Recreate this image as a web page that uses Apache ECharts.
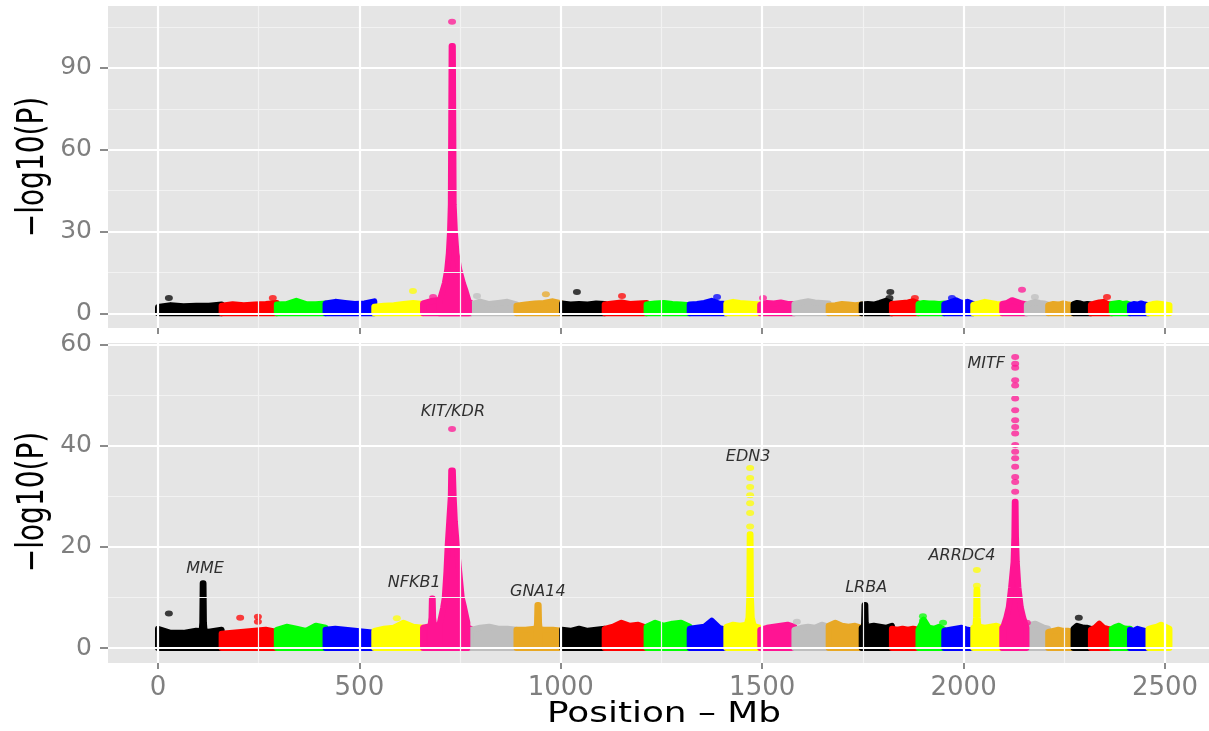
<!DOCTYPE html>
<html>
<head>
<meta charset="utf-8">
<script src="https://cdn.jsdelivr.net/npm/echarts@6/dist/echarts.min.js"></script>
<style>
html, body { margin: 0; padding: 0; background: #fff; }
#chart { width: 1209px; height: 731px; }
</style>
</head>
<body>
<div id="chart"></div>
<script>
// Chromosome sizes in Mb (BTA1..BTA29), colours cycle every 8 chromosomes
const chrLengths = [158, 137, 121, 121, 121, 119, 113, 113, 106, 104, 107, 91, 84, 85, 85, 82, 75, 66, 64, 72, 72, 61, 53, 63, 43, 52, 45, 46, 52];
const palette = ['#000000', '#FF0000', '#00FF00', '#0000FF', '#FFFF00', '#FF1493', '#BEBEBE', '#E8A825'];

// Top panel: upper edge of the dense band of SNPs, 6 samples per chromosome
const topBand = [
    [2.3, 3.0, 2.6, 2.8, 2.8, 3.2], [2.8, 3.3, 3.0, 3.2, 3.4, 3.8], [3.2, 3.4, 4.6, 3.4, 3.3, 3.6],
    [3.6, 4.2, 3.8, 3.4, 3.6, 4.4], [2.4, 2.8, 3.0, 3.4, 3.8, 3.4], [3.6, 4.6, 5.0, 5.3, 4.8, 3.8],
    [3.2, 4.3, 3.4, 3.8, 4.2, 3.3], [2.8, 3.2, 3.6, 3.8, 4.4, 3.6], [3.6, 3.2, 3.4, 3.2, 3.6, 3.4],
    [3.2, 3.6, 4.0, 3.4, 3.6, 3.8], [3.2, 3.6, 3.8, 3.4, 3.2, 3.0], [3.2, 3.4, 3.8, 4.6, 3.6, 3.4],
    [3.6, 4.2, 3.8, 3.6, 3.4, 3.2], [3.2, 3.8, 3.6, 4.0, 3.4, 3.4], [3.4, 4.0, 4.4, 4.0, 3.8, 3.6],
    [2.8, 3.0, 3.4, 3.2, 3.0, 3.2], [3.2, 3.4, 3.2, 3.8, 4.6, 3.6], [3.4, 3.6, 3.8, 4.0, 4.4, 3.6],
    [3.4, 3.8, 3.6, 3.6, 3.4, 3.6], [3.4, 4.0, 4.8, 3.8, 4.2, 3.4], [3.2, 3.6, 4.2, 3.8, 3.4, 3.2],
    [3.4, 3.8, 4.8, 4.2, 3.6, 3.2], [3.2, 3.8, 4.2, 3.8, 3.6, 3.2], [3.0, 3.4, 3.2, 3.6, 3.2, 3.0],
    [3.4, 3.8, 3.6, 3.2, 3.4, 3.2], [3.2, 3.6, 4.0, 4.2, 3.4, 3.2], [3.4, 3.6, 3.8, 3.4, 3.6, 3.2],
    [3.0, 3.4, 3.2, 3.6, 3.2, 3.0], [3.0, 3.4, 3.6, 3.4, 3.2, 3.0]
];
// peak outlines [position Mb, -log10P] and the chromosome they sit on
const topPeakChr = [6];
const topPeaks = [
    [[698, 4], [706, 8], [712, 11], [718, 16], [722, 22], [725, 30], [727, 40], [728, 70], [729, 98],
     [732, 98], [733, 70], [734, 40], [737, 30], [741, 22], [748, 16], [757, 11], [764, 8], [772, 4]]
];
// isolated points [position, -log10P, chromosome]
const topDots = [
    [27, 5.6, 1], [285, 5.6, 2], [633, 8.2, 5], [683, 6.0, 6], [730, 106.9, 6], [792, 6.3, 7],
    [963, 7.0, 8], [1040, 7.8, 9], [1152, 6.3, 10], [1388, 6.0, 12], [1502, 5.6, 14],
    [1818, 7.8, 17], [1816, 5.6, 17], [1879, 5.6, 18], [1971, 5.6, 20], [2145, 8.6, 22],
    [2177, 6.0, 23], [2356, 6.0, 26]
];

// Bottom panel
const bottomBand = [
    [3.8, 3.0, 3.0, 3.4, 3.2, 3.6], [2.8, 3.0, 3.2, 3.4, 3.6, 3.2], [3.6, 4.2, 3.8, 3.4, 4.4, 4.0],
    [3.6, 3.8, 3.6, 3.4, 3.2, 3.0], [3.4, 3.8, 4.0, 5.0, 4.2, 4.0], [4.0, 4.4, 4.6, 4.8, 4.4, 3.8],
    [3.6, 4.0, 4.2, 3.8, 3.8, 3.6], [3.6, 3.6, 3.8, 3.6, 3.6, 3.4], [3.6, 3.4, 3.8, 3.4, 3.6, 3.8],
    [3.8, 4.2, 5.0, 4.4, 4.6, 4.0], [4.2, 5.0, 4.4, 4.8, 5.0, 4.2], [3.8, 4.0, 4.2, 5.4, 4.0, 3.6],
    [4.2, 4.6, 4.4, 4.6, 4.4, 4.0], [3.6, 4.0, 4.2, 4.4, 4.6, 4.2], [3.6, 4.0, 4.2, 4.0, 4.6, 4.2],
    [4.4, 5.0, 4.4, 4.2, 4.4, 4.0], [4.0, 4.2, 4.4, 4.2, 4.0, 4.4], [3.8, 3.6, 3.8, 3.6, 3.8, 3.6],
    [3.6, 5.6, 4.0, 3.8, 4.2, 3.6], [3.4, 3.6, 3.8, 4.0, 3.6, 3.4], [4.0, 4.2, 4.0, 4.2, 4.4, 4.0],
    [4.0, 4.6, 4.8, 4.6, 4.4, 4.0], [4.2, 4.6, 4.8, 4.4, 4.0, 3.8], [3.2, 3.4, 3.6, 3.4, 3.4, 3.2],
    [3.8, 4.4, 4.2, 4.0, 4.0, 3.8], [3.6, 4.0, 4.8, 4.0, 3.8, 3.6], [3.8, 4.2, 4.4, 4.0, 3.8, 3.8],
    [3.6, 3.4, 3.8, 3.6, 3.4, 3.2], [3.8, 4.0, 4.2, 4.6, 4.2, 3.8]
];
const bottomPeakChr = [1, 6, 6, 8, 13, 17, 21, 22];
const bottomPeaks = [
    [[108, 3], [110, 5], [111, 12.8], [113, 12.8], [114, 5], [116, 3]],
    [[676, 4], [679, 6], [680, 9.8], [682, 9.8], [683, 6], [686, 4]],
    [[700, 5], [708, 8], [712, 10], [716, 15], [719, 20], [723, 25], [727, 30], [728, 35.1],
     [732, 35.1], [734, 30], [737, 25], [742, 20], [748, 15], [754, 10], [760, 8], [768, 5]],
    [[939, 3], [941, 5], [942, 8.5], [945, 8.5], [946, 5], [948, 3]],
    [[1460, 4], [1466, 6], [1468, 10], [1469, 22.5], [1471, 22.5], [1472, 10], [1474, 6], [1480, 4]],
    [[1751, 3], [1753, 5], [1754, 8.5], [1756, 8.5], [1757, 5], [1759, 3]],
    [[2029, 4], [2031, 6], [2032, 11.5], [2034, 11.5], [2035, 6], [2037, 4]],
    [[2098, 4], [2106, 6], [2112, 8], [2118, 12], [2124, 17], [2126, 22], [2127, 28.9],
     [2129, 28.9], [2130, 22], [2132, 17], [2136, 12], [2142, 8], [2148, 6], [2156, 4]]
];
const bottomDots = [
    [27, 6.8, 1], [204, 6.0, 2], [248, 6.2, 2], [248, 5.2, 2], [593, 5.9, 5], [730, 43.3, 6],
    [1586, 5.2, 15], [1899, 6.3, 19], [1899, 5.4, 19], [1949, 5.0, 19], [2157, 5.0, 22], [2286, 6.0, 25],
    [1470, 35.6, 13], [1470, 33.6, 13], [1470, 31.8, 13], [1470, 30.2, 13], [1470, 28.6, 13],
    [1470, 26.7, 13], [1470, 24.0, 13],
    [2033, 15.4, 21], [2033, 12.3, 21],
    [2128, 57.5, 22], [2128, 56.2, 22], [2128, 55.4, 22], [2128, 52.9, 22], [2128, 51.9, 22],
    [2128, 49.3, 22], [2128, 47.0, 22], [2128, 45.0, 22], [2128, 43.7, 22], [2128, 42.4, 22],
    [2128, 40.1, 22], [2128, 38.8, 22], [2128, 37.5, 22], [2128, 35.8, 22], [2128, 33.8, 22],
    [2128, 32.8, 22], [2128, 30.9, 22]
];

// gene labels
const geneNames = ['MME', 'NFKB1', 'KIT/KDR', 'GNA14', 'EDN3', 'LRBA', 'ARRDC4', 'MITF'];
const genePos = [[117, 15.6], [636, 12.9], [732, 46.6], [943, 11.1], [1465, 37.7], [1758, 11.9], [1996, 18.2], [2056, 56.2]];

// axes
const xTicks = [0, 500, 1000, 1500, 2000, 2500];
const xMinor = [250, 750, 1250, 1750, 2250];
const topYTicks = [0, 30, 60, 90];
const topYMinor = [15, 45, 75, 105];
const bottomYTicks = [0, 20, 40, 60];
const bottomYMinor = [10, 30, 50];

const xMin = -124.1, xMax = 2609.2;

const chrStart = [];
let acc = 0;
chrLengths.forEach(l => { chrStart.push(acc); acc += l; });
const chrColor = c => palette[(c - 1) % palette.length];

function buildPolys(band, peaks, peakChr) {
    const polys = [];
    band.forEach((h, i) => {
        const s = chrStart[i], len = chrLengths[i];
        const pts = [[s, 0]];
        h.forEach((v, k) => pts.push([s + k * len / (h.length - 1), v]));
        pts.push([s + len, 0]);
        polys.push({ pts: pts, color: palette[i % palette.length] });
    });
    peaks.forEach((p, i) => {
        const pts = [[p[0][0], 0]].concat(p, [[p[p.length - 1][0], 0]]);
        polys.push({ pts: pts, color: chrColor(peakChr[i]) });
    });
    return polys;
}

const topPolys = buildPolys(topBand, topPeaks, topPeakChr);
const bottomPolys = buildPolys(bottomBand, bottomPeaks, bottomPeakChr);

function polySeries(polys, idx) {
    return {
        type: 'custom',
        xAxisIndex: idx,
        yAxisIndex: idx,
        z: 3,
        silent: true,
        data: polys.map((p, i) => [p.pts[1][0], p.pts[1][1], i]),
        renderItem: function (params, api) {
            const p = polys[params.dataIndex];
            return {
                type: 'polygon',
                shape: { points: p.pts.map(q => api.coord(q)) },
                style: { fill: p.color, stroke: p.color, lineWidth: 6, lineJoin: 'round' }
            };
        }
    };
}

function dotSeries(dots, idx) {
    return {
        type: 'scatter',
        xAxisIndex: idx,
        yAxisIndex: idx,
        z: 4,
        silent: true,
        symbol: 'circle',
        symbolSize: [8, 6],
        data: dots.map(d => ({ value: [d[0], d[1]], itemStyle: { color: chrColor(d[2]), opacity: 0.75 } }))
    };
}

function gridSeries(idx, yMajor, yMinor) {
    const lines = [];
    xMinor.forEach(v => lines.push({ xAxis: v, lineStyle: { color: '#F2F2F2', width: 1.2, type: 'solid' } }));
    yMinor.forEach(v => lines.push({ yAxis: v, lineStyle: { color: '#F2F2F2', width: 1.2, type: 'solid' } }));
    xTicks.forEach(v => lines.push({ xAxis: v, lineStyle: { color: '#FFFFFF', width: 2.2, type: 'solid' } }));
    yMajor.forEach(v => lines.push({ yAxis: v, lineStyle: { color: '#FFFFFF', width: 2.2, type: 'solid' } }));
    return {
        type: 'scatter',
        xAxisIndex: idx,
        yAxisIndex: idx,
        z: 1,
        data: [],
        markLine: { silent: true, symbol: 'none', animation: false, label: { show: false }, data: lines }
    };
}

function xAxisCfg(idx, showLabels) {
    return {
        type: 'value', gridIndex: idx, min: xMin, max: xMax,
        splitLine: { show: false },
        axisLine: { show: false, onZero: false },
        axisTick: { show: true, customValues: xTicks, length: 6, lineStyle: { color: '#666', width: 1.5 } },
        axisLabel: {
            show: showLabels, customValues: xTicks, margin: 12,
            formatter: v => String(v),
            fontSize: 26, fontFamily: 'DejaVu Sans', color: '#7F7F7F'
        }
    };
}

function yAxisCfg(idx, min, max, ticks) {
    return {
        type: 'value', gridIndex: idx, min: min, max: max,
        splitLine: { show: false },
        axisLine: { show: false, onZero: false },
        axisTick: { show: true, customValues: ticks, length: 8, lineStyle: { color: '#666', width: 1.5 } },
        axisLabel: {
            customValues: ticks, margin: 16,
            formatter: v => String(v),
            fontSize: 25, fontFamily: 'DejaVu Sans', color: '#7F7F7F'
        }
    };
}

const chart = echarts.init(document.getElementById('chart'));

const option = {
    animation: false,
    backgroundColor: '#FFFFFF',
    grid: [
        { left: 108, top: 6, width: 1101, height: 322, show: true, backgroundColor: '#E5E5E5', borderWidth: 0 },
        { left: 108, top: 343, width: 1101, height: 320, show: true, backgroundColor: '#E5E5E5', borderWidth: 0 }
    ],
    xAxis: [xAxisCfg(0, false), xAxisCfg(1, true)],
    yAxis: [
        yAxisCfg(0, -5.39, 112.7, topYTicks),
        yAxisCfg(1, -2.96, 60.28, bottomYTicks)
    ],
    graphic: [
        {
            type: 'text', x: 34, y: 167, rotation: Math.PI / 2, scaleY: 1.3,
            style: { text: '\u2212log10(P)', font: '28px "DejaVu Sans"', fill: '#000', align: 'center', verticalAlign: 'middle' }
        },
        {
            type: 'text', x: 34, y: 502, rotation: Math.PI / 2, scaleY: 1.3,
            style: { text: '\u2212log10(P)', font: '28px "DejaVu Sans"', fill: '#000', align: 'center', verticalAlign: 'middle' }
        },
        {
            type: 'text', x: 664, y: 715, scaleX: 1.28,
            style: { text: 'Position \u2013 Mb', font: '28px "DejaVu Sans"', fill: '#000', align: 'center', verticalAlign: 'middle' }
        }
    ],
    series: [
        gridSeries(0, topYTicks, topYMinor),
        gridSeries(1, bottomYTicks, bottomYMinor),
        polySeries(topPolys, 0),
        polySeries(bottomPolys, 1),
        dotSeries(topDots, 0),
        dotSeries(bottomDots, 1),
        {
            type: 'scatter',
            xAxisIndex: 1,
            yAxisIndex: 1,
            z: 5,
            silent: true,
            symbolSize: 0,
            data: geneNames.map((n, i) => ({ name: n, value: genePos[i] })),
            label: {
                show: true, position: 'inside', formatter: '{b}',
                fontStyle: 'italic', fontSize: 16, fontFamily: 'DejaVu Sans', color: '#000'
            }
        }
    ]
};

chart.setOption(option);
</script>
</body>
</html>
